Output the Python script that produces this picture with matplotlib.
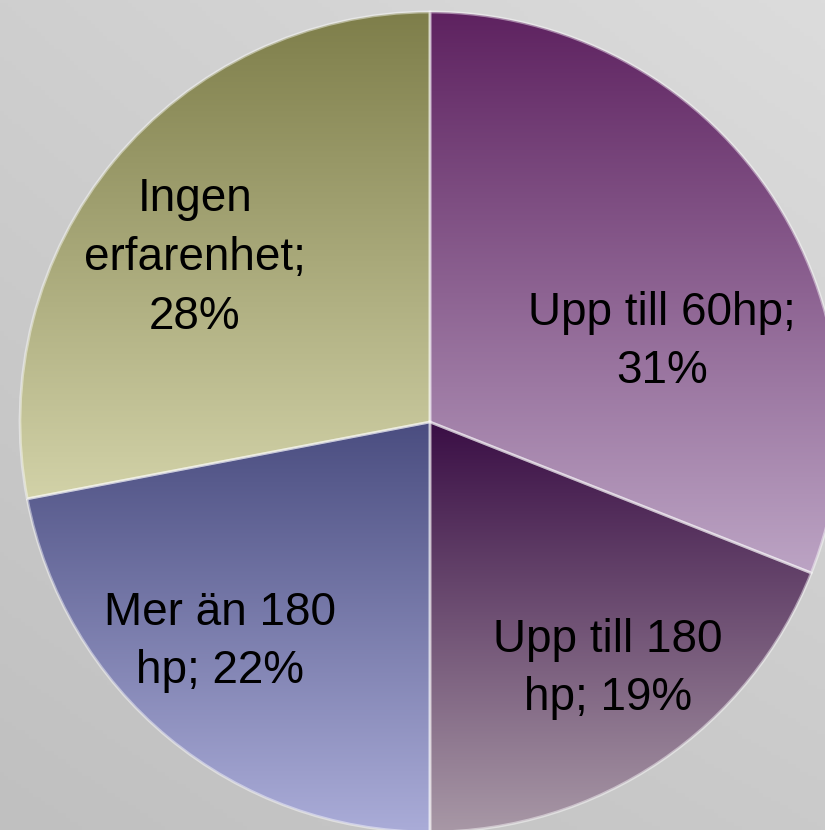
import numpy as np
import matplotlib.pyplot as plt
from matplotlib.colors import LinearSegmentedColormap

# slices, clockwise from 12 o'clock
labels = ['Upp till 60hp;\n31%', 'Upp till 180\nhp; 19%', 'Mer än 180\nhp; 22%',
          'Ingen\nerfarenhet;\n28%']
shares = [31, 19, 22, 28]
top_colors = ['#5e2260', '#3a0e45', '#4a4d80', '#7e7e4a']
bottom_colors = ['#bca4c4', '#a898a6', '#aaacd8', '#d2d2a8']

W, H = 825, 830
CENTER = (430, 408)
RADIUS = 410
label_xy = [(662, 488), (608, 161), (220, 188), (195, 572)]

plt.rcParams['font.family'] = ['Liberation Sans', 'DejaVu Sans']

fig = plt.figure(figsize=(W / 100, H / 100), dpi=100)

# grey backdrop, a bit lighter towards the top right
bg = fig.add_axes([0, 0, 1, 1])
gx = np.linspace(0, 1, 200)
gy = np.linspace(0, 1, 200)[:, None]
shade = 207 + (220 - 207) * gx - (207 - 192) * gy + ((202 - 192) - (220 - 207)) * gx * gy
bg.imshow(np.dstack([shade / 255] * 3), extent=(0, 1, 0, 1), aspect='auto')
bg.axis('off')

ax = fig.add_axes([0, 0, 1, 1])
ax.patch.set_alpha(0)
wedges, _ = ax.pie(shares, startangle=90, counterclock=False, center=CENTER,
                   radius=RADIUS, frame=True,
                   wedgeprops=dict(facecolor='none', edgecolor=(1, 1, 1, 0.45),
                                   linewidth=2))
ax.set_xlim(0, W)
ax.set_ylim(0, H)
ax.set_aspect('equal')
ax.axis('off')

for w, c0, c1 in zip(wedges, top_colors, bottom_colors):
    verts = w.get_path().vertices
    y0, y1 = verts[:, 1].min(), verts[:, 1].max()
    x0, x1 = verts[:, 0].min(), verts[:, 0].max()
    cmap = LinearSegmentedColormap.from_list('g', [c1, c0])
    grad = np.linspace(0, 1, 256)[:, None]
    im = ax.imshow(grad, cmap=cmap, extent=(x0, x1, y0, y1), origin='lower',
                   aspect='auto', zorder=1)
    im.set_clip_path(w)
    w.set_zorder(2)

for txt, (x, y) in zip(labels, label_xy):
    ax.text(x, y, txt, ha='center', va='center', fontsize=33, color='black',
            linespacing=1.44, zorder=3)

ax.set_xlim(0, W)
ax.set_ylim(0, H)
fig.savefig('out.png', dpi=100)
